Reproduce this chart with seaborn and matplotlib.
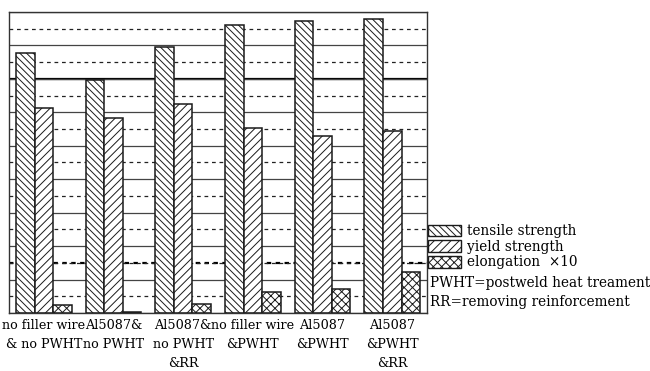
import matplotlib
matplotlib.use("Agg")
import matplotlib.pyplot as plt
import seaborn as sns
import pandas as pd
from matplotlib.patches import Patch

categories = ["no filler wire\n& no PWHT", "Al5087&\nno PWHT", "Al5087&\nno PWHT\n&RR",
              "no filler wire\n&PWHT", "Al5087\n&PWHT", "Al5087\n&PWHT\n&RR"]
tensile = [388, 348, 397, 431, 437, 440]
yield_s = [307, 292, 312, 276, 265, 272]
elong10 = [12, 2, 13, 32, 36, 62]
series = ["tensile strength", "yield strength", "elongation  \u00d710"]

rows = []
for name, vals in zip(series, [tensile, yield_s, elong10]):
    for c, v in zip(categories, vals):
        rows.append({"group": c, "property": name, "value": v})
df = pd.DataFrame(rows)

sns.set_theme(style="white")
plt.rcParams["font.family"] = ["DejaVu Serif"]
plt.rcParams["hatch.linewidth"] = 0.7
plt.rcParams["text.color"] = "black"
plt.rcParams["xtick.color"] = "black"
plt.rcParams["xtick.labelcolor"] = "black"

fig = plt.figure(figsize=(6.5, 3.71), dpi=100)
ax = fig.add_axes([0.0138, 0.1563, 0.6432, 0.8114])

sns.barplot(data=df, x="group", y="value", hue="property", order=categories,
            hue_order=series, width=0.8, ax=ax, legend=False)

hatches = ["\\\\\\\\\\", "////", "xxxx"]
handles = []
for cont, h, name in zip(ax.containers, hatches, series):
    for bar in cont:
        bar.set_facecolor("white")
        bar.set_edgecolor("#1a1a1a")
        bar.set_linewidth(1.1)
        bar.set_hatch(h)
    handles.append(Patch(facecolor="white", edgecolor="#1a1a1a", hatch=h, label=name))

ax.set_ylim(0, 450)
ax.set_xlim(-0.5, 5.5)
ax.set_yticks(range(0, 451, 50))
ax.set_yticks(range(25, 450, 50), minor=True)
ax.set_axisbelow(True)
ax.grid(which="major", axis="y", color="#444444", lw=0.9, ls="-")
ax.grid(which="minor", axis="y", color="#222222", lw=0.9, ls=(0, (3, 3)))
ax.axhline(350, color="black", lw=1.6, zorder=0.5)
ax.axhline(75, color="black", lw=1.6, ls=(0, (2, 2)), zorder=0.5)
ax.tick_params(axis="y", which="both", length=0, labelleft=False)
ax.tick_params(axis="x", length=0, pad=4, labelsize=9.2, labelcolor="black")
for lab in ax.get_xticklabels():
    lab.set_linespacing(1.6)
ax.set_xlabel("")
ax.set_ylabel("")
for s in ax.spines.values():
    s.set_color("#333333")
    s.set_linewidth(1.0)

ax.legend(handles=handles, loc="upper left", bbox_to_anchor=(1.0, 0.30),
          frameon=False, fontsize=9.8, handlelength=2.4, handleheight=0.95,
          handletextpad=0.4, borderaxespad=0.0, borderpad=0.1, labelspacing=0.12,
          labelcolor="black")

fig.text(0.661, 0.237, "PWHT=postweld heat treament", fontsize=9.8, va="center", ha="left", color="black")
fig.text(0.661, 0.186, "RR=removing reinforcement", fontsize=9.8, va="center", ha="left", color="black")

fig.savefig("out.png", dpi=100)
